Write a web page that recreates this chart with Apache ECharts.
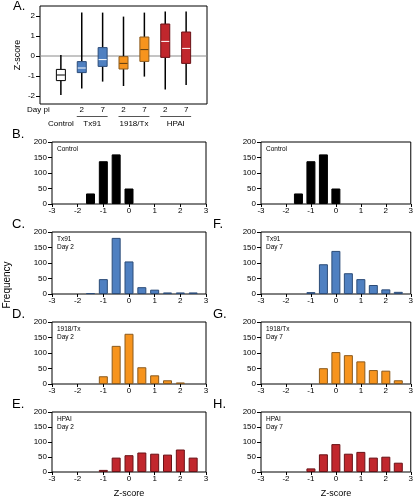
<!DOCTYPE html>
<html><head><meta charset="utf-8">
<script src="https://cdn.jsdelivr.net/npm/echarts@6/dist/echarts.min.js"></script>
<style>html,body{margin:0;padding:0;background:#fff}#c{width:416px;height:499px}</style>
</head><body><div id="c"></div>
<script>
// ---- Box plot data (Z-scores) ----
const boxGroups = ['Control', 'Tx91', 'Tx91', '1918/Tx', '1918/Tx', 'HPAI', 'HPAI'];
const boxDays = ['', '2', '7', '2', '7', '2', '7'];
const boxLow = [-1.95, -1.62, -1.28, -1.50, -1.03, -1.67, -1.45];
const boxQ1 = [-1.23, -0.83, -0.52, -0.65, -0.27, -0.07, -0.37];
const boxMedian = [-0.95, -0.60, -0.18, -0.37, 0.32, 0.73, 0.38];
const boxQ3 = [-0.67, -0.28, 0.42, -0.03, 0.95, 1.60, 1.20];
const boxHigh = [0.05, 2.17, 2.17, 1.97, 2.17, 2.22, 2.22];
const boxYTicks = [-2, -1, 0, 1, 2];

// ---- Histogram data ----
const binCenters = [-2.5, -2, -1.5, -1, -0.5, 0, 0.5, 1, 1.5, 2, 2.5];
const controlCounts = [0, 0, 34, 138, 160, 50, 0, 0, 0, 0, 0];
const tx91Day2 = [0, 0, 3, 48, 181, 105, 22, 14, 5, 5, 5];
const tx91Day7 = [0, 0, 0, 6, 96, 139, 67, 48, 29, 15, 7];
const flu1918Day2 = [0, 0, 0, 25, 123, 162, 54, 28, 12, 5, 0];
const flu1918Day7 = [0, 0, 0, 0, 51, 103, 93, 73, 45, 43, 12];
const hpaiDay2 = [0, 0, 0, 7, 48, 56, 65, 61, 58, 75, 48];
const hpaiDay7 = [0, 0, 0, 12, 59, 93, 61, 67, 48, 51, 31];
const zTicks = [-3, -2, -1, 0, 1, 2, 3];
const freqTicks = [0, 50, 100, 150, 200];

const FONT = 'Liberation Sans, Arial, sans-serif';
const BLUE = {fill: '#4f80c1', stroke: '#2c4c78'};
const ORANGE = {fill: '#f7941d', stroke: '#8a5a1e'};
const RED = {fill: '#c1272d', stroke: '#6a1217'};
const BLACK = {fill: '#000000', stroke: '#000000'};
const boxStyles = [
  {fill: '#ffffff', stroke: '#000000', med: '#000000'},
  {fill: BLUE.fill, stroke: BLUE.stroke, med: '#ffffff'},
  {fill: BLUE.fill, stroke: BLUE.stroke, med: '#ffffff'},
  {fill: ORANGE.fill, stroke: ORANGE.stroke, med: '#5a3a10'},
  {fill: ORANGE.fill, stroke: ORANGE.stroke, med: '#5a3a10'},
  {fill: RED.fill, stroke: RED.stroke, med: '#ffffff'},
  {fill: RED.fill, stroke: RED.stroke, med: '#ffffff'}
];

const panels = [
  {counts: controlCounts, col: 0, row: 0, style: BLACK, text: 'Control', letter: 'B.'},
  {counts: controlCounts, col: 1, row: 0, style: BLACK, text: 'Control', letter: ''},
  {counts: tx91Day2, col: 0, row: 1, style: BLUE, text: 'Tx91\nDay 2', letter: 'C.'},
  {counts: tx91Day7, col: 1, row: 1, style: BLUE, text: 'Tx91\nDay 7', letter: 'F.'},
  {counts: flu1918Day2, col: 0, row: 2, style: ORANGE, text: '1918/Tx\nDay 2', letter: 'D.'},
  {counts: flu1918Day7, col: 1, row: 2, style: ORANGE, text: '1918/Tx\nDay 7', letter: 'G.'},
  {counts: hpaiDay2, col: 0, row: 3, style: RED, text: 'HPAI\nDay 2', letter: 'E.'},
  {counts: hpaiDay7, col: 1, row: 3, style: RED, text: 'HPAI\nDay 7', letter: 'H.'}
];
const colLeft = [52, 261], colWidth = [154, 153];
const rowTop = [142, 232, 322, 412], panelH = 62;

const grids = [{left: 40, top: 6, width: 167, height: 98, show: true, borderColor: '#000', borderWidth: 1, backgroundColor: 'transparent'}];
const xAxes = [{gridIndex: 0, type: 'value', min: 0, max: 8, show: false}];
const yAxes = [{
  gridIndex: 0, type: 'value', min: -2.4, max: 2.5,
  axisLine: {show: false, onZero: false},
  axisTick: {show: true, length: 4, lineStyle: {color: '#000'}, customValues: boxYTicks},
  axisLabel: {fontSize: 8, fontFamily: FONT, color: '#000', margin: 5, customValues: boxYTicks, formatter: v => String(v)},
  splitLine: {show: false},
  name: 'Z-score', nameLocation: 'middle', nameGap: 18, nameTextStyle: {fontSize: 9, fontFamily: FONT, color: '#000'}
}];
const series = [];

// zero line
series.push({type: 'line', xAxisIndex: 0, yAxisIndex: 0, data: [[0, 0], [8, 0]], symbol: 'none', silent: true,
  lineStyle: {color: '#8a8a8a', width: 1}, z: 1});
// boxes
series.push({
  type: 'custom', xAxisIndex: 0, yAxisIndex: 0, z: 3,
  data: boxLow.map((v, i) => [i + 1, boxLow[i], boxQ1[i], boxMedian[i], boxQ3[i], boxHigh[i]]),
  renderItem: function (params, api) {
    const x = api.value(0);
    const lo = api.coord([x, api.value(1)]);
    const q1 = api.coord([x, api.value(2)]);
    const md = api.coord([x, api.value(3)]);
    const q3 = api.coord([x, api.value(4)]);
    const hi = api.coord([x, api.value(5)]);
    const hw = 4.5;
    const st = boxStyles[params.dataIndex];
    return {type: 'group', children: [
      {type: 'line', shape: {x1: lo[0], y1: lo[1], x2: lo[0], y2: q1[1]}, style: {stroke: '#000', lineWidth: 1.5}},
      {type: 'line', shape: {x1: hi[0], y1: q3[1], x2: hi[0], y2: hi[1]}, style: {stroke: '#000', lineWidth: 1.5}},
      {type: 'rect', shape: {x: q3[0] - hw, y: q3[1], width: 2 * hw, height: q1[1] - q3[1]}, style: {fill: st.fill, stroke: st.stroke, lineWidth: 1}},
      {type: 'line', shape: {x1: md[0] - hw + 0.5, y1: md[1], x2: md[0] + hw - 0.5, y2: md[1]}, style: {stroke: st.med, lineWidth: 1}}
    ]};
  }
});

panels.forEach((p, k) => {
  const gi = k + 1;
  grids.push({left: colLeft[p.col], top: rowTop[p.row], width: colWidth[p.col], height: panelH,
    show: true, borderColor: '#000', borderWidth: 1, backgroundColor: 'transparent'});
  const isBottom = p.row === 3;
  xAxes.push({
    gridIndex: gi, type: 'value', min: -3, max: 3, interval: 1,
    axisLine: {show: false, onZero: false},
    axisTick: {show: true, length: 3, lineStyle: {color: '#000'}},
    axisLabel: {fontSize: 8, fontFamily: FONT, color: '#000', margin: 3, showMinLabel: true, showMaxLabel: true},
    splitLine: {show: false},
    name: isBottom ? 'Z-score' : '', nameLocation: 'middle', nameGap: 17,
    nameTextStyle: {fontSize: 9, fontFamily: FONT, color: '#000'}
  });
  yAxes.push({
    gridIndex: gi, type: 'value', min: 0, max: 200, interval: 50,
    axisLine: {show: false, onZero: false},
    axisTick: {show: true, length: 4, lineStyle: {color: '#000'}},
    axisLabel: {fontSize: 8, fontFamily: FONT, color: '#000', margin: 5},
    splitLine: {show: false}
  });
  series.push({
    type: 'bar', xAxisIndex: gi, yAxisIndex: gi, barWidth: 9, z: 3,
    data: binCenters.map((c, j) => [c, p.counts[j]]).filter(d => d[1] > 0),
    itemStyle: {color: p.style.fill, borderColor: p.style.stroke, borderWidth: 1},
    silent: true
  });
});

const chart = echarts.init(document.getElementById('c'), null, {renderer: 'canvas'});
chart.setOption({
  animation: false,
  grid: grids, xAxis: xAxes, yAxis: yAxes, series: series
});

// annotations
const g = [];
const txt = (x, y, s, size, opts) => ({type: 'text', x: x, y: y,
  style: Object.assign({text: s, fontSize: size, fontFamily: FONT, fill: '#000'}, opts || {})});
g.push(txt(13, 6, 'A.', 13, {verticalAlign: 'middle'}));
const yRow1 = 110, yLine = 116.5, yRow2 = 124;
g.push(txt(27, yRow1, 'Day pi', 8, {verticalAlign: 'middle'}));
boxDays.forEach((d, i) => {
  const px = chart.convertToPixel({xAxisIndex: 0, yAxisIndex: 0}, [i + 1, 0])[0];
  if (d) g.push(txt(px, yRow1, d, 8, {align: 'center', verticalAlign: 'middle'}));
});
const c0 = chart.convertToPixel({xAxisIndex: 0, yAxisIndex: 0}, [1, 0])[0];
g.push(txt(c0, yRow2, boxGroups[0], 8, {align: 'center', verticalAlign: 'middle'}));
for (let i = 1; i < 7; i += 2) {
  const a = chart.convertToPixel({xAxisIndex: 0, yAxisIndex: 0}, [i + 1, 0])[0];
  const b = chart.convertToPixel({xAxisIndex: 0, yAxisIndex: 0}, [i + 2, 0])[0];
  g.push({type: 'line', shape: {x1: a - 5, y1: yLine, x2: b + 5, y2: yLine}, style: {stroke: '#555', lineWidth: 1}});
  g.push(txt((a + b) / 2, yRow2, boxGroups[i], 8, {align: 'center', verticalAlign: 'middle'}));
}
panels.forEach((p) => {
  const L = colLeft[p.col], T = rowTop[p.row];
  if (p.letter) g.push(txt(L - 40 - (p.col ? 8 : 0), T - 8, p.letter, 13, {verticalAlign: 'middle'}));
  g.push(txt(L + 5, T + 3, p.text, 6.5, {verticalAlign: 'top', lineHeight: 8}));
});
g.push({type: 'text', x: 7, y: 285, rotation: Math.PI / 2, style: {text: 'Frequency', fontSize: 10, fontFamily: FONT, fill: '#000', align: 'center', verticalAlign: 'middle'}});
chart.setOption({graphic: g});
</script>
</body></html>
